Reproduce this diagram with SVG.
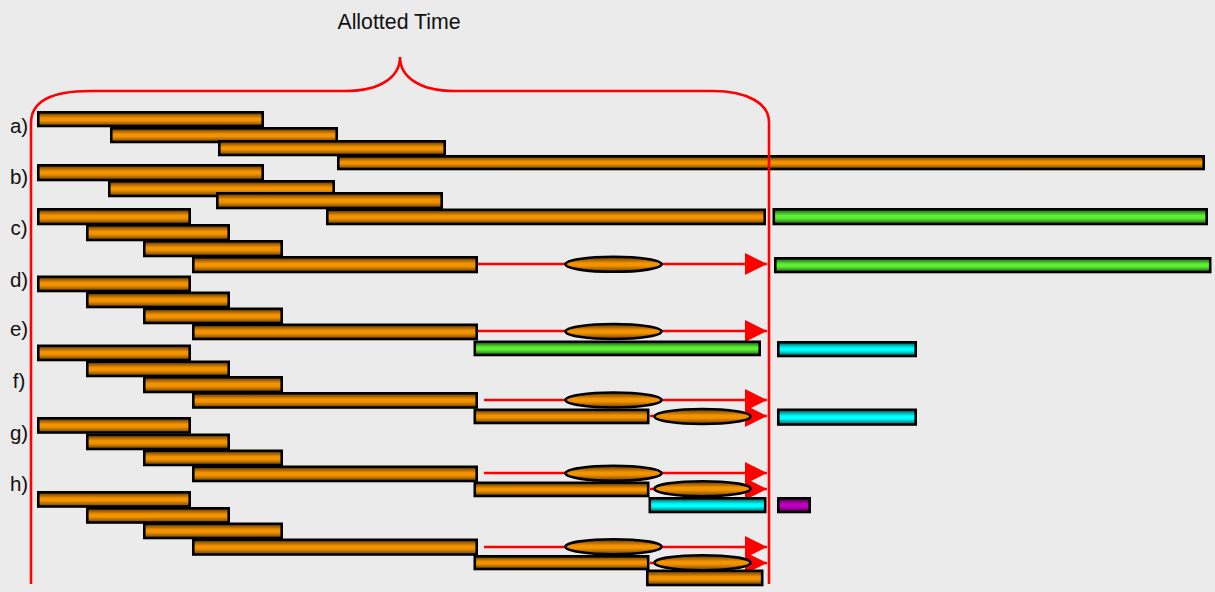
<svg xmlns="http://www.w3.org/2000/svg" width="1215" height="592" viewBox="0 0 1215 592">
<defs>
<linearGradient id="gO" x1="0" y1="0" x2="0" y2="1">
<stop offset="0" stop-color="#5a3500"/><stop offset="0.42" stop-color="#f49300"/><stop offset="0.6" stop-color="#f49300"/><stop offset="1" stop-color="#6a4000"/>
</linearGradient>
<linearGradient id="gG" x1="0" y1="0" x2="0" y2="1">
<stop offset="0" stop-color="#1c5510"/><stop offset="0.42" stop-color="#5cf035"/><stop offset="0.6" stop-color="#5cf035"/><stop offset="1" stop-color="#205c12"/>
</linearGradient>
<linearGradient id="gC" x1="0" y1="0" x2="0" y2="1">
<stop offset="0" stop-color="#005555"/><stop offset="0.42" stop-color="#00ffff"/><stop offset="0.6" stop-color="#00ffff"/><stop offset="1" stop-color="#005c5c"/>
</linearGradient>
<linearGradient id="gP" x1="0" y1="0" x2="0" y2="1">
<stop offset="0" stop-color="#450045"/><stop offset="0.42" stop-color="#c000c0"/><stop offset="0.6" stop-color="#c000c0"/><stop offset="1" stop-color="#4c004c"/>
</linearGradient>
<marker id="ah" markerUnits="userSpaceOnUse" markerWidth="24" markerHeight="24" refX="22" refY="11" orient="auto">
<path d="M0,0 L22,11 L0,22 Z" fill="#ff0000"/>
</marker>
</defs>
<style>
.o{fill:url(#gO);stroke:#000;stroke-width:2.6}
.g{fill:url(#gG);stroke:#000;stroke-width:2.6}
.c{fill:url(#gC);stroke:#000;stroke-width:2.6}
.p{fill:url(#gP);stroke:#000;stroke-width:2.6}
.ar{stroke:#ff0000;stroke-width:2.5;fill:none;marker-end:url(#ah)}
.br{stroke:#ff0000;stroke-width:2.6;fill:none}
.t{font-family:"Liberation Sans",Arial,sans-serif;fill:#111}
.lb{font-size:20.5px;text-anchor:middle}
</style>
<rect width="1215" height="592" fill="#ebebeb"/>
<text class="t" x="399" y="29" font-size="21.3" text-anchor="middle">Allotted Time</text>
<g id="labels">
<text class="t lb" x="19" y="133">a)</text>
<text class="t lb" x="19" y="184">b)</text>
<text class="t lb" x="19" y="235">c)</text>
<text class="t lb" x="19" y="287">d)</text>
<text class="t lb" x="19" y="336">e)</text>
<text class="t lb" x="19" y="388">f)</text>
<text class="t lb" x="19" y="440">g)</text>
<text class="t lb" x="19" y="491">h)</text>
</g>
<g id="connectors">
<path class="ar" d="M478,264 L767,264"/>
<path class="ar" d="M478,331 L767,331"/>
<path class="ar" d="M484,400 L767,400"/>
<path class="ar" d="M650,416 L767,416"/>
<path class="ar" d="M484,473 L767,473"/>
<path class="ar" d="M650,489 L767,489"/>
<path class="ar" d="M484,547 L767,547"/>
<path class="ar" d="M650,563 L767,563"/>
</g>
<g id="row-a">
<rect class="o" x="38.3" y="112.3" width="224.4" height="13.7"/>
<rect class="o" x="111.3" y="128.3" width="225.4" height="13.7"/>
<rect class="o" x="219.3" y="141.3" width="225.4" height="13.7"/>
<rect class="o" x="338.3" y="156.3" width="865.4" height="12.7"/>
</g>
<g id="row-b">
<rect class="o" x="38.3" y="165.3" width="224.4" height="14.7"/>
<rect class="o" x="109.3" y="181.3" width="224.4" height="14.7"/>
<rect class="o" x="217.3" y="193.3" width="224.4" height="14.7"/>
<rect class="o" x="327.3" y="209.8" width="437.4" height="14.2"/>
<rect class="g" x="773.8" y="209.3" width="432.9" height="14.7"/>
</g>
<g id="row-c">
<rect class="o" x="38.3" y="209.3" width="151.4" height="14.7"/>
<rect class="o" x="87.3" y="225.3" width="141.4" height="14.7"/>
<rect class="o" x="144.3" y="241.3" width="137.4" height="14.7"/>
<rect class="o" x="193.3" y="257.3" width="283.4" height="14.7"/>
<ellipse class="o" cx="613.5" cy="264.3" rx="48" ry="7.5"/>
<rect class="g" x="775.3" y="258.3" width="434.9" height="13.7"/>
</g>
<g id="row-d">
<rect class="o" x="38.3" y="276.8" width="151.4" height="14.2"/>
<rect class="o" x="87.3" y="292.8" width="141.4" height="14.2"/>
<rect class="o" x="144.3" y="308.8" width="137.4" height="14.2"/>
<rect class="o" x="193.3" y="324.8" width="283.4" height="14.2"/>
<ellipse class="o" cx="613.5" cy="331.5" rx="48" ry="7.5"/>
<rect class="g" x="474.8" y="341.8" width="284.9" height="13.2"/>
<rect class="c" x="778.3" y="342.3" width="137.4" height="13.7"/>
</g>
<g id="row-e">
<rect class="o" x="38.3" y="345.8" width="151.4" height="14.2"/>
<rect class="o" x="87.3" y="361.8" width="141.4" height="14.2"/>
<rect class="o" x="144.3" y="377.3" width="137.4" height="14.7"/>
<rect class="o" x="193.3" y="393.3" width="283.4" height="14.2"/>
<ellipse class="o" cx="613.5" cy="400" rx="48" ry="7.5"/>
<rect class="o" x="474.8" y="409.8" width="173.4" height="13.2"/>
<ellipse class="o" cx="702.5" cy="416.5" rx="48" ry="7.5"/>
<rect class="c" x="778.3" y="409.8" width="137.4" height="14.7"/>
</g>
<g id="row-g">
<rect class="o" x="38.3" y="418.3" width="151.4" height="14.2"/>
<rect class="o" x="87.3" y="434.8" width="141.4" height="14.2"/>
<rect class="o" x="144.3" y="450.8" width="137.4" height="14.2"/>
<rect class="o" x="193.3" y="466.8" width="283.4" height="14.2"/>
<ellipse class="o" cx="613.5" cy="473.3" rx="48" ry="7.5"/>
<rect class="o" x="474.8" y="482.8" width="173.4" height="13.2"/>
<ellipse class="o" cx="702.5" cy="488.7" rx="48" ry="7.5"/>
<rect class="c" x="649.8" y="498.3" width="115.4" height="13.7"/>
<rect class="p" x="778.3" y="498.3" width="31.4" height="13.7"/>
</g>
<g id="row-h">
<rect class="o" x="38.3" y="492.3" width="151.4" height="14.2"/>
<rect class="o" x="87.3" y="508.3" width="141.4" height="14.2"/>
<rect class="o" x="144.3" y="523.8" width="137.4" height="14.2"/>
<rect class="o" x="193.3" y="539.8" width="283.4" height="14.7"/>
<ellipse class="o" cx="613.5" cy="546.7" rx="48" ry="7.5"/>
<rect class="o" x="474.8" y="556.3" width="173.4" height="12.7"/>
<ellipse class="o" cx="702.5" cy="562.7" rx="48" ry="7.5"/>
<rect class="o" x="647.3" y="570.8" width="114.9" height="14.2"/>
</g>
<g id="brace">
<path class="br" d="M31,584 L31,123 C31,101 52,91 90,91 L345,91 C382,91 400,76 400,57 C400,76 418,91 455,91 L713,91 C748,91 769,104 769,122 L769,584"/>
</g>
</svg>
